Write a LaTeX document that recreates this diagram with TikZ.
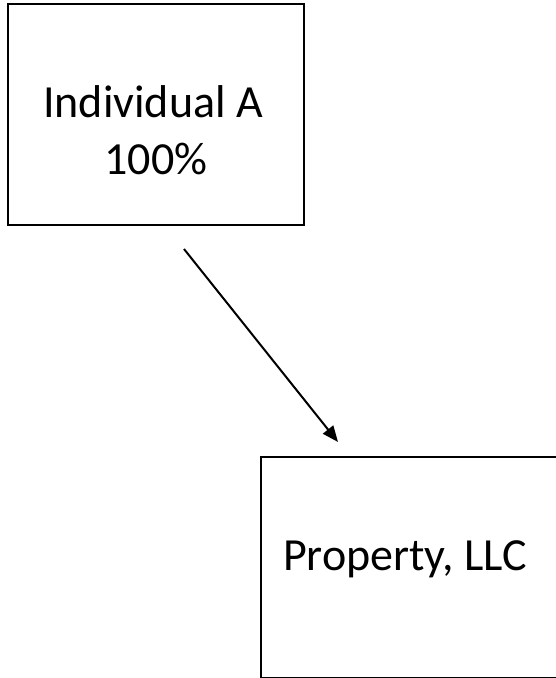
\documentclass[tikz,border=0pt]{standalone}
\usepackage{fontspec}
\setmainfont{Carlito}
\usetikzlibrary{arrows.meta}
\begin{document}
\begin{tikzpicture}[x=1pt,y=-1pt,
  box/.style={draw=black,line width=2pt,minimum width=296pt,minimum height=221pt,inner sep=0pt,outer sep=0pt},
  lbl/.style={font=\fontsize{46}{56}\selectfont,anchor=base,inner sep=0pt,text=black},
  conn/.style={line width=2pt,-{Triangle[length=16pt,width=13pt]}}]
\useasboundingbox (0,0) rectangle (556,678);
\node[box] (a) at (156,114.5) {};
\node[box] (b) at (408.5,567.5) {};
\node[lbl] (a1) at (153,117) {Individual A};
\node[lbl] (a2) at (156,174) {100\%};
\node[lbl] (b1) at (405,570) {Property, LLC};
\coordinate (s) at (184,249);
\coordinate (t) at (338,442);
\draw[conn] (s) -- (t);
\end{tikzpicture}
\end{document}
